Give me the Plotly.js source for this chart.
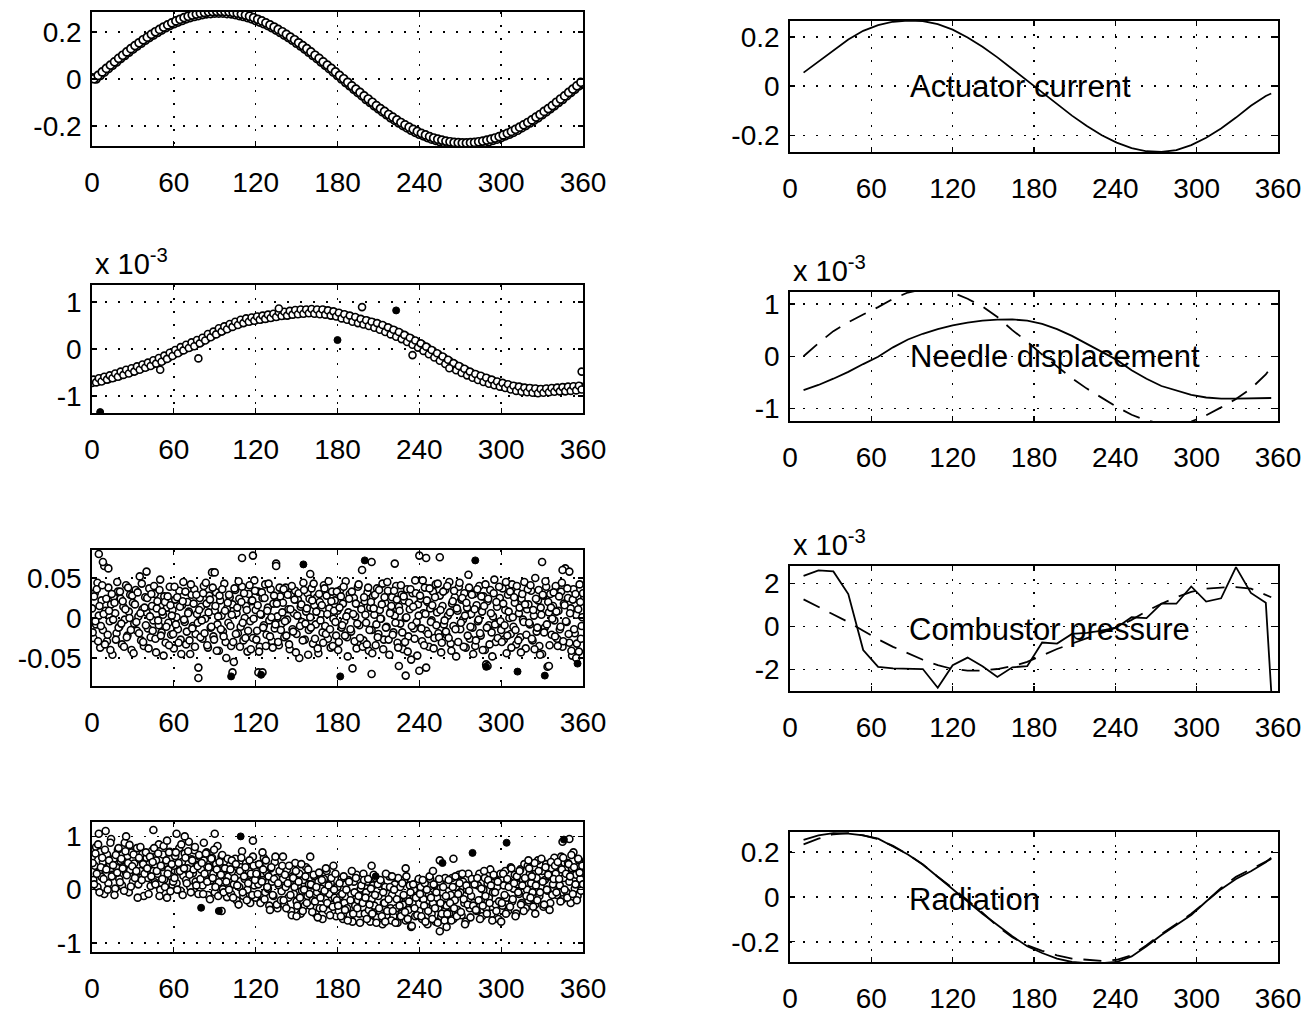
<!DOCTYPE html>
<html><head><meta charset="utf-8">
<script src="https://cdn.plot.ly/plotly-3.0.1.min.js"></script>
<style>html,body{margin:0;padding:0;background:#fff}</style>
</head><body><div id="chart" style="width:1306px;height:1013px"></div>
<script>
// ---------------- DATA ----------------
const angleTicks = [0, 60, 120, 180, 240, 300, 360];
const angleTickLabels = ['0', '60', '120', '180', '240', '300', '360'];

// Left column, row 1: actuator current samples (every 3 degrees from 0, and from 1.5)
const actuatorSamples = [0.005,0,0.015,0.029,0.044,0.058,0.072,0.087,0.100,0.114,
0.127,0.140,0.152,0.165,0.176,0.187,0.198,0.208,0.218,0.227,
0.235,0.242,0.249,0.256,0.261,0.266,0.270,0.274,0.277,0.278,
0.280,0.280,0.280,0.278,0.277,0.274,0.270,0.266,0.261,0.256,
0.249,0.242,0.235,0.227,0.218,0.208,0.198,0.187,0.176,0.165,
0.152,0.140,0.127,0.114,0.100,0.087,0.072,0.058,0.044,0.029,
0.015,0,-0.015,-0.029,-0.044,-0.058,-0.072,-0.087,-0.100,-0.114,
-0.127,-0.140,-0.152,-0.165,-0.176,-0.187,-0.198,-0.208,-0.218,-0.227,
-0.235,-0.242,-0.249,-0.256,-0.261,-0.266,-0.270,-0.274,-0.277,-0.278,
-0.280,-0.280,-0.280,-0.278,-0.277,-0.274,-0.270,-0.266,-0.261,-0.256,
-0.249,-0.242,-0.235,-0.227,-0.218,-0.208,-0.198,-0.187,-0.176,-0.165,
-0.152,-0.140,-0.127,-0.114,-0.100,-0.087,-0.072,-0.058,-0.044,-0.029,
-0.02];
const actuatorSamplesB = [0.001,0.015,0.030,0.045,0.059,0.073,0.088,0.101,0.115,0.129,
0.142,0.154,0.167,0.178,0.190,0.201,0.211,0.221,0.230,0.239,
0.247,0.254,0.261,0.267,0.272,0.276,0.280,0.283,0.286,0.287,
0.288,0.288,0.287,0.286,0.283,0.280,0.276,0.272,0.267,0.261,
0.254,0.247,0.239,0.230,0.221,0.211,0.201,0.190,0.178,0.167,
0.154,0.142,0.129,0.115,0.101,0.088,0.073,0.059,0.045,0.030,
0.015,0.001,-0.014,-0.029,-0.043,-0.057,-0.072,-0.085,-0.099,-0.113,
-0.126,-0.138,-0.151,-0.162,-0.174,-0.185,-0.195,-0.205,-0.214,-0.223,
-0.231,-0.238,-0.245,-0.251,-0.256,-0.260,-0.264,-0.267,-0.270,-0.271,
-0.272,-0.272,-0.271,-0.270,-0.267,-0.264,-0.260,-0.256,-0.251,-0.245,
-0.238,-0.231,-0.223,-0.214,-0.205,-0.195,-0.185,-0.174,-0.162,-0.151,
-0.138,-0.126,-0.113,-0.099,-0.085,-0.072,-0.057,-0.043,-0.029,-0.014];

// Left column, row 2: needle displacement samples (even and odd degrees), unit 0.01 x 1e-3
const needleSamples = [-72,-66,-70,-63,-67,-60,-64,-58,-61,-54,
-58,-50,-53,-47,-50,-43,-46,-39,-42,-35,
-38,-31,-34,-26,-29,-22,-25,-16,-19,-10,
-12,-3,-7,2,-1,7,4,12,9,17,
14,23,21,30,27,36,33,42,39,47,
44,52,49,56,53,60,57,63,59,66,
61,68,63,70,65,72,67,74,69,77,
71,77,72,80,74,81,75,82,76,83,
77,83,76,82,75,83,74,80,72,78,
70,75,66,72,63,69,60,66,56,62,
53,60,51,57,47,53,43,49,38,44,
33,39,28,34,23,28,17,22,11,16,
5,10,-2,3,-9,-4,-16,-11,-23,-18,
-30,-25,-37,-32,-43,-38,-49,-44,-54,-50,
-59,-55,-64,-59,-68,-63,-72,-67,-75,-71,
-78,-74,-81,-77,-84,-79,-87,-81,-89,-83,
-90,-84,-91,-85,-92,-86,-91,-85,-90,-84,
-89,-83,-88,-82,-88,-82,-87,-81,-86,-79,
-84];
const needleSamplesB = [-65,-71,-62,-69,-59,-65,-56,-62,-52,-59,
-48,-55,-44,-52,-41,-48,-37,-44,-33,-40,
-29,-36,-24,-31,-19,-27,-14,-21,-8,-15,
-2,-9,4,-3,9,2,14,6,19,12,
24,18,32,25,37,31,44,37,48,42,
53,47,58,51,62,55,65,58,67,60,
69,62,71,64,73,66,75,68,78,70,
79,71,81,73,83,74,84,75,84,76,
85,75,84,74,84,73,82,71,80,69,
77,65,74,62,71,58,68,55,64,52,
61,49,58,45,55,41,51,36,46,31,
41,26,36,21,30,15,24,9,18,3,
12,-4,5,-11,-2,-18,-9,-25,-16,-32,
-23,-39,-30,-45,-36,-51,-42,-56,-48,-61,
-53,-66,-57,-70,-61,-74,-65,-77,-69,-80,
-72,-83,-75,-86,-78,-89,-80,-91,-82,-92,
-83,-93,-84,-94,-85,-93,-84,-92,-83,-91,
-82,-90,-81,-90,-80,-89,-79,-88,-78,-86];
const needleOutAngles = [137,198,78,359,235,50,262];
const needleOutValues = [0.86,0.89,-0.2,-0.48,-0.13,-0.44,-0.41];
const needleDarkAngles = [223,180,6];
const needleDarkValues = [0.82,0.19,-1.34];

// Left column, row 3: combustor pressure samples (whole and half degrees), unit 0.001
const pressureSamples = [12,-25,31,-8,44,3,-37,22,-15,65,9,-29,38,-4,17,-46,27,6,-19,33,
-11,24,-33,14,-2,41,-22,8,29,-40,19,-7,35,-16,2,52,-28,11,-35,26,
7,-13,37,-24,15,-3,30,-43,21,-9,48,-18,4,27,-31,13,-6,39,-21,10,
-38,23,1,-14,34,-27,16,45,-5,-33,20,8,-45,29,-10,36,-20,5,-62,25,
14,-26,40,-1,18,-37,28,-12,57,-23,9,32,-8,-41,22,3,-17,43,-30,12,
-6,26,-35,17,-55,35,6,-19,24,-11,39,-28,0,15,-42,30,-4,21,-25,47,
10,-16,33,-36,4,25,-9,42,-21,13,-3,36,-29,18,-13,68,2,-34,27,-7,
19,-24,38,-2,11,-39,29,-14,6,34,-20,23,-50,14,-5,44,-27,8,31,-15,
1,37,-32,16,-8,26,-44,20,5,-18,41,-10,28,-26,12,-37,33,-1,22,-22,
9,-30,35,-12,18,-4,46,-24,7,30,-17,-63,25,2,-38,39,-9,15,60,-28,
21,-6,32,-41,13,-15,27,4,-34,37,-20,10,-1,43,-27,19,-11,34,-46,8,
26,-18,3,40,-31,14,-7,29,-39,22,0,36,-23,11,-52,31,-13,47,-5,17,
-66,24,-29,6,38,-16,20,-36,12,-3,33,-25,42,7,-19,28,-43,15,-8,35,
-21,3,45,-32,18,-10,26,-48,9,39,-14,23,-2,31,-37,13,54,-26,5,-12,
30,-35,16,-4,40,-22,8,27,-40,-58,21,-9,35,-18,2,48,-30,14,-6,25,
-15,37,-27,10,-44,29,0,-20,42,-11,19,-33,32,6,-24,24,-2,45,-38,11,
17,-8,34,-28,3,50,-17,22,-35,13,-45,28,-12,39,-61,7,30,-21,15,-3,
40,-26,9,-14,33,-36,18,62,-5,25,-31,12,-47,36,-19,4,27,-42,20,-10,
31];
const pressureSamplesB = [-18,27,-4,36,-29,15,-10,41,5,-33,24,-21,9,-40,30,-2,19,-27,45,-12,
33,-7,21,-36,11,-24,38,0,-15,28,-44,17,-5,32,-19,6,43,-30,13,-9,
25,-38,2,30,-16,40,-26,12,-3,35,-22,8,-47,20,-11,27,-34,16,3,-20,
39,-8,26,-31,14,-45,21,-2,33,-17,6,-28,42,-13,18,-36,29,-6,10,-24,
-3,31,-19,44,-34,7,23,-11,38,-27,15,-41,2,28,-14,36,-23,9,-50,19,
29,-10,4,-30,37,-20,13,46,-36,20,-6,31,-25,10,-16,41,-39,22,-1,34,
-27,16,-42,5,32,-12,25,-35,9,43,-23,1,-37,28,-8,18,-30,38,-15,7,
36,-4,-22,29,-33,11,40,-17,23,-43,3,31,-10,17,-28,35,-7,12,-46,24,
-12,22,43,-26,8,-38,30,-3,16,-31,37,-20,5,46,-14,21,-35,9,-5,33,
-40,13,27,-9,39,-22,2,-48,24,-14,33,5,-29,18,-7,42,-25,11,-36,26,
4,-33,38,-15,20,-44,12,29,-8,-24,35,-1,17,-39,26,-12,45,-27,6,15,
-21,34,-6,23,-37,9,41,-18,27,-30,1,-42,19,36,-10,14,-26,31,-47,3,
28,-13,47,-34,5,22,-20,37,-5,16,-38,26,-9,43,-24,10,-31,33,-3,-17,
40,-25,7,-41,21,34,-14,12,-30,44,-6,25,-36,3,19,-22,38,-11,29,-45,
11,-28,36,-2,-19,27,-40,15,42,-12,24,-33,6,-48,31,-8,20,-25,39,-4,
-30,18,-9,45,-22,8,33,-37,1,26,-15,40,-28,13,-43,30,-5,17,-21,36,
-6,41,-26,10,-39,24,-12,35,-46,4,29,-18,46,-8,20,-34,13,-1,32,-23,
8,-35,27,-11,44,-29,16,-4,37,-20,6,-41,23,-14,30,-32,11,42,-26,1];
const pressureOutAngles = [5,8,12,40,90,110,118,135,160,205,222,240,245,255,330,345,350,78,103,122,125,205,225,230,245,290,335,355];
const pressureOutValues = [80,70,62,58,57,75,78,65,55,70,68,78,75,76,70,60,58,-75,-68,-68,-68,-70,-60,-72,-62,-60,-60,-50];
const pressureDarkAngles = [155,200,281,102,124,182,289,312,332,356];
const pressureDarkValues = [67,72,72,-73,-71,-73,-61,-67,-72,-57];

// Left column, row 4: radiation samples (whole and half degrees), unit 0.01
const radiationSamples = [62,18,45,80,5,33,71,24,52,-8,39,66,12,47,95,28,58,2,41,75,
20,54,8,43,88,31,63,-5,37,70,15,49,26,78,10,57,35,67,-12,44,
60,22,48,7,73,35,14,55,30,85,0,42,66,19,50,-15,38,71,25,9,
45,63,12,34,78,-2,52,26,68,18,40,90,5,57,31,74,15,46,-8,62,
38,8,55,24,70,-10,43,17,60,30,-5,48,82,14,36,62,1,27,52,-14,
25,45,-8,33,10,58,-20,28,5,42,72,-12,20,50,0,35,-25,15,62,8,
-15,28,10,45,-22,18,60,-5,32,2,-30,40,15,-12,52,22,-35,8,35,-3,
20,-28,5,38,-15,12,-40,25,-8,50,-22,8,30,-45,-2,18,-30,42,-12,10,
-30,8,-20,25,-45,-5,15,-35,2,-55,20,-18,35,-40,-8,12,-28,45,-15,-50,
5,-40,-12,20,-55,-25,10,-35,18,-48,-8,-60,15,-30,28,-20,-45,2,-15,30,
-45,-5,15,-38,-60,-18,8,-30,22,-52,-12,-40,12,-65,-25,5,-48,-8,25,-35,
-10,-50,10,-35,-62,-20,5,-45,-28,18,-58,-15,-38,8,-70,-25,0,-50,-12,15,
-40,5,-55,-18,12,-32,-65,-8,20,-45,-25,8,-60,-15,-35,15,-50,-5,-28,22,
-30,10,-45,-10,22,-55,-20,5,-38,28,-5,-48,15,-25,-60,0,30,-35,-12,18,
-25,15,-40,8,30,-20,-50,0,22,-35,12,-15,38,-45,-5,25,-28,5,-55,18,
20,-30,8,35,-15,-40,15,42,-22,2,28,-45,10,-8,38,-25,18,48,-35,0,
-20,30,12,-5,42,-28,22,55,-12,5,35,-32,18,48,-2,25,-25,40,10,60,
30,-10,45,8,62,-18,22,38,-5,50,15,-25,40,70,2,28,-12,55,20,35,
10];
const radiationSamplesB = [50,10,68,30,85,-5,42,60,20,75,38,0,55,88,25,46,-10,65,32,78,
14,58,40,-2,72,27,50,84,6,44,66,22,35,-15,60,80,18,48,30,70,
40,-8,62,25,52,78,10,35,68,-12,45,20,82,5,55,30,70,-3,48,15,
22,70,0,50,35,85,-10,40,60,12,72,28,-5,55,38,80,8,44,65,20,
50,-8,30,68,15,42,-18,58,22,75,5,38,-12,52,28,65,-5,40,15,58,
0,38,55,-15,22,48,8,-28,35,60,-5,25,42,-20,12,55,30,-10,45,18,
30,-8,48,-25,15,38,-18,55,5,25,-38,42,-10,20,62,-28,12,35,-20,45,
-20,28,-35,12,45,-10,-48,22,5,35,-30,15,-15,48,-40,0,25,-25,38,-8,
10,-42,28,-22,5,-52,32,-15,18,-35,-2,40,-25,8,-48,22,-32,0,30,-20,
-30,12,-50,-8,25,-38,0,-58,15,-20,35,-45,-5,22,-35,-12,-62,8,-25,18,
-15,-55,20,-28,2,-45,28,-10,-62,10,-35,18,-50,-5,-25,30,-40,-18,5,-58,
-40,0,-62,-18,22,-30,-50,12,-10,-42,25,-55,-22,-5,-68,10,-35,-15,-48,20,
-8,-50,18,-30,-60,0,-40,25,-15,-55,10,-35,-5,-62,20,-25,-45,5,-58,-12,
-45,18,-25,-58,5,-35,25,-50,-8,12,-42,30,-18,-65,8,-28,-2,-52,20,-30,
10,-38,22,-20,-55,2,-30,35,-12,-45,18,-25,8,-58,28,-5,-40,15,-22,30,
-25,30,-10,-45,20,5,-32,40,-18,12,-50,25,-5,35,-28,8,-40,22,-12,45,
40,-15,25,-32,50,8,-20,35,-5,58,15,-28,42,0,28,-38,52,-10,20,45,
-5,52,20,-22,38,60,0,30,-15,48,25,65,-8,42,10,-20,58,32,-2,45];
const radiationOutAngles = [5,10,25,45,55,62,68,82,90,118,125,140,160,205,220,230,250,255,265,320,345,350,95,150,215,255,260,300,325];
const radiationOutValues = [105,110,100,112,92,105,100,88,105,92,70,62,62,45,25,40,35,55,58,55,90,95,-40,-50,-60,-78,-70,-60,-45];
const radiationDarkAngles = [80,93,109,304,257,279,208,346];
const radiationDarkValues = [-34,-40,100,88,50,69,25,94];

// Right column: model lines
const lineAngles = [10,21,32,43,54,65,76,87,98,109,120,131,142,153,164,175,186,197,208,219,230,241,252,263,274,285,296,307,318,329,340,351,355];
const actuatorLine = [0.055,0.10,0.145,0.19,0.225,0.248,0.262,0.267,0.265,0.252,0.23,0.198,0.16,0.117,0.07,0.022,-0.027,-0.075,-0.12,-0.162,-0.2,-0.23,-0.252,-0.265,-0.268,-0.26,-0.24,-0.21,-0.172,-0.128,-0.08,-0.04,-0.03];
const needleSolid = [-0.65,-0.55,-0.43,-0.30,-0.15,-0.01,0.17,0.32,0.43,0.52,0.59,0.645,0.68,0.70,0.705,0.68,0.62,0.52,0.39,0.24,0.08,-0.07,-0.27,-0.43,-0.57,-0.66,-0.74,-0.79,-0.81,-0.81,-0.80,-0.80,-0.80];
const needleDashed = [0.0,0.25,0.48,0.65,0.8,0.94,1.1,1.22,1.28,1.3,1.22,1.1,0.95,0.75,0.5,0.28,0.03,-0.2,-0.42,-0.62,-0.8,-0.97,-1.12,-1.23,-1.29,-1.3,-1.25,-1.13,-0.98,-0.82,-0.62,-0.35,-0.2];
const pressureSolid = [2.34,2.6,2.55,1.5,-1.1,-1.88,-1.95,-1.98,-1.98,-2.85,-1.8,-1.45,-1.85,-2.35,-1.9,-1.85,-0.75,-0.8,-0.35,-0.3,-0.2,-0.05,0.42,0.38,1.05,1.05,1.85,1.15,1.3,2.75,1.55,1.1,-3.0];
const pressureDashed = [1.25,0.9,0.55,0.2,-0.2,-0.6,-0.95,-1.25,-1.55,-1.8,-1.98,-2.05,-2.05,-1.98,-1.85,-1.65,-1.35,-1.05,-0.8,-0.55,-0.3,-0.05,0.3,0.7,1.05,1.35,1.6,1.75,1.8,1.82,1.75,1.45,1.35];
const radiationSolid = [0.255,0.275,0.285,0.283,0.275,0.26,0.225,0.19,0.145,0.09,0.035,-0.02,-0.075,-0.125,-0.175,-0.22,-0.25,-0.275,-0.29,-0.295,-0.295,-0.29,-0.265,-0.22,-0.17,-0.125,-0.08,-0.02,0.035,0.08,0.115,0.155,0.175];
const radiationDashed = [0.235,0.26,0.28,0.285,0.275,0.258,0.228,0.19,0.145,0.09,0.04,-0.015,-0.07,-0.13,-0.18,-0.215,-0.24,-0.26,-0.275,-0.28,-0.285,-0.28,-0.26,-0.215,-0.165,-0.12,-0.075,-0.02,0.04,0.09,0.125,0.16,0.17];

const panelLabels = ['Actuator current', 'Needle displacement', 'Combustor pressure', 'Radiation'];
const scaleLabel = 'x 10<sup>-3</sup>';

// ---------------- LAYOUT / DRAW ----------------
const W = 1306, H = 1013;
const FONT = 'Liberation Sans, Arial, Helvetica, sans-serif';
// panel boxes in px: [left, right, top, bottom]; order L1,R1,L2,R2,L3,R3,L4,R4
const boxes = [
  [92,583,12,146],[790,1278,21,152],
  [92,583,285,413],[790,1278,292,421],
  [92,583,550,686],[790,1278,566,691],
  [92,583,822,952],[790,1278,832,962]];
const yRanges = [[-0.285,0.285],[-0.268,0.265],[-1.36,1.36],[-1.24,1.23],[-0.085,0.085],[-3.0,2.8],[-1.17,1.27],[-0.29,0.29]];
const yTickSets = [
  [[-0.2,0,0.2],['-0.2','0','0.2']],[[-0.2,0,0.2],['-0.2','0','0.2']],
  [[-1,0,1],['-1','0','1']],[[-1,0,1],['-1','0','1']],
  [[-0.05,0,0.05],['-0.05','0','0.05']],[[-2,0,2],['-2','0','2']],
  [[-1,0,1],['-1','0','1']],[[-0.2,0,0.2],['-0.2','0','0.2']]];

// sample angle positions for a series that starts at `start` with spacing `step`
const sampleAngles = (vals, start, step) => vals.map((_, i) => start + i * step);
const scaleBy = (arr, f) => arr.map(v => v * f);

const openMarker = {symbol: 'circle', size: 7, color: '#fff', line: {color: '#000', width: 1.6}};
const darkMarker = {symbol: 'circle', size: 7, color: '#000', line: {color: '#000', width: 1}};
const sineMarker = {symbol: 'circle', size: 8, color: '#fff', line: {color: '#000', width: 1.7}};
const solidLine = {color: '#000', width: 1.8};
const dashLine = {color: '#000', width: 1.8, dash: '18px,11px'};

function ax(n) { return n === 1 ? '' : String(n); }
const traces = [];
function pts(n, x, y, marker) { traces.push({type: 'scatter', mode: 'markers', x, y, marker, xaxis: 'x' + ax(n), yaxis: 'y' + ax(n), hoverinfo: 'skip'}); }
function line(n, x, y, l) { traces.push({type: 'scatter', mode: 'lines', x, y, line: l, xaxis: 'x' + ax(n), yaxis: 'y' + ax(n), hoverinfo: 'skip'}); }

// left column scatters
pts(1, sampleAngles(actuatorSamples, 0, 3), actuatorSamples, sineMarker);
pts(1, sampleAngles(actuatorSamplesB, 1.5, 3), actuatorSamplesB, sineMarker);
pts(3, sampleAngles(needleSamples, 0, 2), scaleBy(needleSamples, 0.01), openMarker);
pts(3, sampleAngles(needleSamplesB, 1, 2), scaleBy(needleSamplesB, 0.01), openMarker);
pts(3, needleOutAngles, needleOutValues, openMarker);
pts(3, needleDarkAngles, needleDarkValues, darkMarker);
pts(5, sampleAngles(pressureSamples, 0, 1), scaleBy(pressureSamples, 0.001), openMarker);
pts(5, sampleAngles(pressureSamplesB, 0.5, 1), scaleBy(pressureSamplesB, 0.001), openMarker);
pts(5, pressureOutAngles, scaleBy(pressureOutValues, 0.001), openMarker);
pts(5, pressureDarkAngles, scaleBy(pressureDarkValues, 0.001), darkMarker);
pts(7, sampleAngles(radiationSamples, 0, 1), scaleBy(radiationSamples, 0.01), openMarker);
pts(7, sampleAngles(radiationSamplesB, 0.5, 1), scaleBy(radiationSamplesB, 0.01), openMarker);
pts(7, radiationOutAngles, scaleBy(radiationOutValues, 0.01), openMarker);
pts(7, radiationDarkAngles, scaleBy(radiationDarkValues, 0.01), darkMarker);

// right column lines
line(2, lineAngles, actuatorLine, solidLine);
line(4, lineAngles, needleDashed, dashLine);
line(4, lineAngles, needleSolid, solidLine);
line(6, lineAngles, pressureDashed, dashLine);
line(6, lineAngles, pressureSolid, solidLine);
line(8, lineAngles, radiationDashed, dashLine);
line(8, lineAngles, radiationSolid, solidLine);

const layout = {
  width: W, height: H, margin: {l: 0, r: 0, t: 0, b: 0},
  paper_bgcolor: '#fff', plot_bgcolor: '#fff', showlegend: false,
  font: {family: FONT, size: 28, color: '#000'},
  annotations: []
};
const common = {
  showline: true, linecolor: '#000', linewidth: 1.8, mirror: 'ticks',
  ticks: 'inside', ticklen: 5, tickwidth: 1.3, tickcolor: '#000',
  showgrid: true, gridcolor: '#000', gridwidth: 1.4, griddash: '2px,11px',
  zeroline: false, fixedrange: true,
  tickfont: {family: FONT, size: 28, color: '#000'}
};
boxes.forEach((b, i) => {
  const n = i + 1;
  layout['xaxis' + ax(n)] = Object.assign({}, common, {
    domain: [b[0] / W, b[1] / W], anchor: 'y' + ax(n), range: [0, 360],
    tickmode: 'array', tickvals: angleTicks, ticktext: angleTickLabels,
    ticklabelstandoff: 11
  });
  layout['yaxis' + ax(n)] = Object.assign({}, common, {
    domain: [1 - b[3] / H, 1 - b[2] / H], anchor: 'x' + ax(n), range: yRanges[i],
    tickmode: 'array', tickvals: yTickSets[i][0], ticktext: yTickSets[i][1],
    ticklabelstandoff: 3
  });
});

// "x 10^-3" scale labels above panels L2, R2, R3
[2, 3, 5].forEach(i => {
  const b = boxes[i];
  layout.annotations.push({xref: 'paper', yref: 'paper', x: (b[0] + 1) / W, y: 1 - (b[2] - 3) / H,
    xanchor: 'left', yanchor: 'bottom', showarrow: false, text: scaleLabel,
    font: {family: FONT, size: 29, color: '#000'}});
});

// panel names in right column
const labelPos = [[2, 87, 0], [4, 87, 0], [6, 86, -0.15], [8, 86, -0.01]];
labelPos.forEach((p, k) => {
  layout.annotations.push({xref: 'x' + ax(p[0]), yref: 'y' + ax(p[0]), x: p[1], y: p[2],
    xanchor: 'left', yanchor: 'middle', showarrow: false, text: panelLabels[k],
    font: {family: FONT, size: 31, color: '#000'}});
});

Plotly.newPlot('chart', traces, layout, {staticPlot: true, displayModeBar: false});
</script></body></html>
